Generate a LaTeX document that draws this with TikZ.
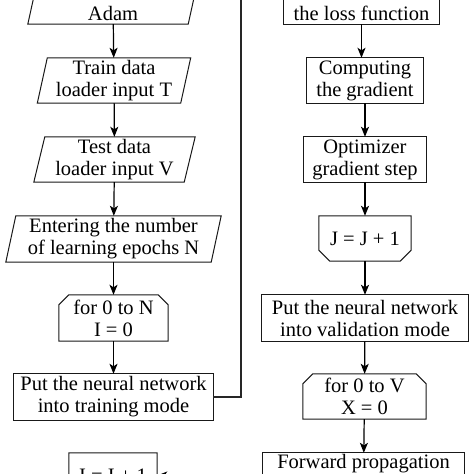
\documentclass[tikz,border=0pt]{standalone}
\usepackage{fontspec}
\setmainfont{Liberation Serif}
\usetikzlibrary{arrows.meta,calc}
\newcommand\myparabox[2]{\draw[outline] ($(#1.south west)+(-#2,0)$) -- ($(#1.south east)+(-#2,0)$) -- ($(#1.north east)+(#2,0)$) -- ($(#1.north west)+(#2,0)$) -- cycle;}
\newcommand\myloopstart[2]{\draw[outline] (#1.south west) -- (#1.south east) -- ($(#1.north east)+(0,#2)$) -- ($(#1.north east)+(-#2,0)$) -- ($(#1.north west)+(#2,0)$) -- ($(#1.north west)+(0,#2)$) -- cycle;}
\newcommand\myloopend[2]{\draw[outline] (#1.north west) -- (#1.north east) -- ($(#1.south east)+(0,-#2)$) -- ($(#1.south east)+(-#2,0)$) -- ($(#1.south west)+(#2,0)$) -- ($(#1.south west)+(0,-#2)$) -- cycle;}
\newcommand\myrectbox[1]{\draw[outline] (#1.north west) rectangle (#1.south east);}
\begin{document}
\begin{tikzpicture}[x=1pt,y=-1pt,
  box/.style={draw=none, rectangle, inner sep=0pt, align=center,
    font=\fontsize{20.5}{22}\selectfont, text=black},
  conn/.style={line width=1.2pt, black, -{Stealth[length=10pt,width=8pt,inset=2.5pt]}},
  outline/.style={line width=1pt, black!90}]
\useasboundingbox (0,0) rectangle (474,474);
\clip (0,0) rectangle (474,474);
\fill[white] (0,0) rectangle (474,474);

% left column
\node[box, minimum width=160pt, minimum height=45pt] (adam) at (113,1.5) {\strut\\Adam};
\node[box, minimum width=143pt, minimum height=45pt] (train) at (114,80.5) {Train data\\loader input T};
\node[box, minimum width=150pt, minimum height=45pt] (test) at (114.5,159.5) {Test data\\loader input V};
\node[box, minimum width=205pt, minimum height=46pt] (enter) at (113.5,239) {Entering the number\\of learning epochs N};
\node[box, minimum width=109pt, minimum height=46pt] (forN) at (113.5,318) {for 0 to N\\I = 0};
\node[box, minimum width=199pt, minimum height=46pt] (trainmode) at (113.5,397) {Put the neural network\\into training mode};
\node[box, minimum width=88pt, minimum height=45pt] (ione) at (113,475.5) {I = I + 1};

% right column
\node[box, minimum width=155pt, minimum height=45pt] (loss) at (361.5,1.5) {\strut\\the loss function};
\node[box, minimum width=116pt, minimum height=45pt] (grad) at (365,80.5) {Computing\\the gradient};
\node[box, minimum width=122pt, minimum height=45pt] (opt) at (365,159.5) {Optimizer\\gradient step};
\node[box, minimum width=92pt, minimum height=45pt] (jinc) at (365,238.5) {J = J + 1};
\node[box, minimum width=206pt, minimum height=46pt] (valmode) at (365,318) {Put the neural network\\into validation mode};
\node[box, minimum width=123pt, minimum height=45pt] (forV) at (364.5,396.5) {for 0 to V\\X = 0};
\node[box, minimum width=201pt, minimum height=45pt] (fwd) at (363.5,475.5) {Forward propagation\\\strut};

% outlines
\myparabox{adam}{5}
\myparabox{train}{5}
\myparabox{test}{5.5}
\myparabox{enter}{5}
\myloopstart{forN}{10}
\myrectbox{trainmode}
\myloopend{ione}{11}
\myrectbox{loss}
\myrectbox{grad}
\myrectbox{opt}
\myloopend{jinc}{11}
\myrectbox{valmode}
\myloopstart{forV}{10}
\myrectbox{fwd}

% connectors
\draw[conn] (adam) -- (train);
\draw[conn] (train) -- (test);
\draw[conn] (test) -- (enter);
\draw[conn] (enter) -- (forN);
\draw[conn] (forN) -- (trainmode);
\draw[conn] (loss.south) -- (loss.south |- grad.north);
\draw[conn] (grad) -- (opt);
\draw[conn] (opt) -- (jinc);
\draw[conn] (jinc) -- (valmode);
\draw[conn] (valmode) -- (forV);
\draw[conn] (forV) -- (fwd);
\coordinate (up) at (241,-10);
\draw[line width=1.6pt, black!85] (trainmode.east) -| (up);
\coordinate (ib) at (200,475.5);
\draw[conn] (ib) -- (ione.east);
\end{tikzpicture}
\end{document}
